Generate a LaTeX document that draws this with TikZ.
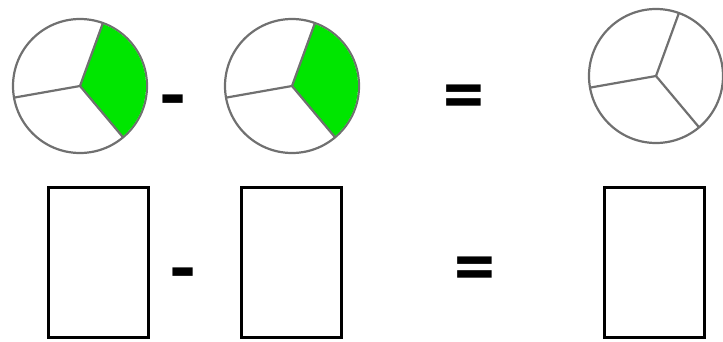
\documentclass[tikz,border=0pt]{standalone}
\usepackage{fontspec}
\newfontfamily\opfont{Carlito}
\definecolor{piegreen}{RGB}{0,230,0}
\definecolor{piegray}{RGB}{112,112,112}

\tikzset{
  pie/.style={circle, draw=piegray, line width=2.2pt, minimum size=134pt, inner sep=0pt, outer sep=0pt},
  spoke/.style={piegray, line width=2.2pt},
  card/.style={draw, line width=3pt, minimum width=100pt, minimum height=150pt, inner sep=0pt},
  op/.style={font=\opfont\bfseries\fontsize{82}{82}\selectfont, inner sep=0pt}
}

\begin{document}
\begin{tikzpicture}[x=1pt,y=1pt]
\useasboundingbox (0,0) rectangle (723,341);

% top row: pies
\node[pie] (pieA) at (80,255) {};
\node[pie] (pieB) at (292,255) {};
\node[pie] (pieC) at (656,265) {};

\foreach \p in {pieA,pieB}
  \fill[piegreen] (\p.center) -- ++(-50:66) arc[start angle=-50, end angle=70, radius=66] -- cycle;

\foreach \p in {pieA,pieB,pieC}
  \foreach \a in {70,190,310}
    \draw[spoke] (\p.center) -- (\p.\a);

\node[op] (minusA) at (173,232) {-};
\node[op] (equalsA) at (464,238) {=};

% bottom row: empty cards
\node[card] (cardA) at (98.5,79) {};
\node[card] (cardB) at (291,79) {};
\node[card] (cardC) at (654.5,79) {};

\node[op] (minusB) at (183,59) {-};
\node[op] (equalsB) at (474.5,66) {=};
\end{tikzpicture}
\end{document}
